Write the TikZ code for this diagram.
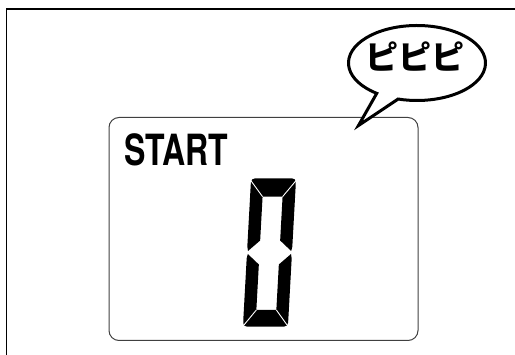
\documentclass[tikz,border=0pt]{standalone}
\usepackage{fontspec}
\usetikzlibrary{calc}
\setmainfont{TeX Gyre Heros}
\newfontfamily\cjk{Noto Sans CJK JP}
\tikzset{
  frameline/.style={line width=1.2, black},
  panel/.style={line width=1, black!75, rounded corners=10},
  bubble/.style={line width=3, black, fill=white, line join=miter, miter limit=10},
  seg/.style={fill=black},
  sepline/.style={white, line width=0.9},
}
\begin{document}
\begin{tikzpicture}[x=1pt,y=-1pt]
\useasboundingbox (0,0) rectangle (515,355);
% outer frame (cropped)
\coordinate (fbl) at (6.5,356);
\coordinate (ftl) at (6.5,9);
\coordinate (ftr) at (516,9);
\draw[frameline] (fbl) -- (ftl) -- (ftr);
% display panel
\node[panel, draw, minimum width=309, minimum height=223, inner sep=0, anchor=north west] (panel) at (108.5,117) {};
% START label
\node[font=\bfseries\fontsize{43}{43}\selectfont, xscale=0.745, anchor=base west, inner sep=0] (start) at (124,166) {START};
% seven segment digit 0
\begin{scope}[shift={(269.5,252.5)}, xslant=0.055]
  \fill[seg] (-21.6,-1.5) -- (-22.5,-6) -- (-22.5,-65) .. controls (-22.5,-74.2) .. (-13.5,-74.2)
     -- (13.5,-74.2) .. controls (22.5,-74.2) .. (22.5,-65) -- (22.5,-6) -- (21.6,-1.5)
     -- (10,-12) -- (10,-55.8) -- (-10,-55.8) -- (-10,-12) -- cycle;
  \fill[seg] (-21.6,1.5) -- (-22.5,6) -- (-22.5,65) .. controls (-22.5,74.2) .. (-13.5,74.2)
     -- (13.5,74.2) .. controls (22.5,74.2) .. (22.5,65) -- (22.5,6) -- (21.6,1.5)
     -- (10,12) -- (10,57.5) -- (-10,57.5) -- (-10,12) -- cycle;
  \draw[sepline] (-10,-55.8) -- (-25,-75);
  \draw[sepline] (10,-55.8) -- (25,-75);
  \draw[sepline] (-10,57.5) -- (-25,77);
  \draw[sepline] (10,57.5) -- (25,77);
\end{scope}
% speech bubble
\coordinate (bc) at (417,63);
\coordinate (tip) at (358.5,125.5);
\draw[bubble] (tip) -- ($(bc)+(126:68.5 and 37.5)$) arc[start angle=126, end angle=466, x radius=68.5, y radius=37.5] -- cycle;
\node[font=\cjk\bfseries\fontsize{33}{33}\selectfont, inner sep=0] (beep) at (415,57) {ピピピ};
\end{tikzpicture}
\end{document}
